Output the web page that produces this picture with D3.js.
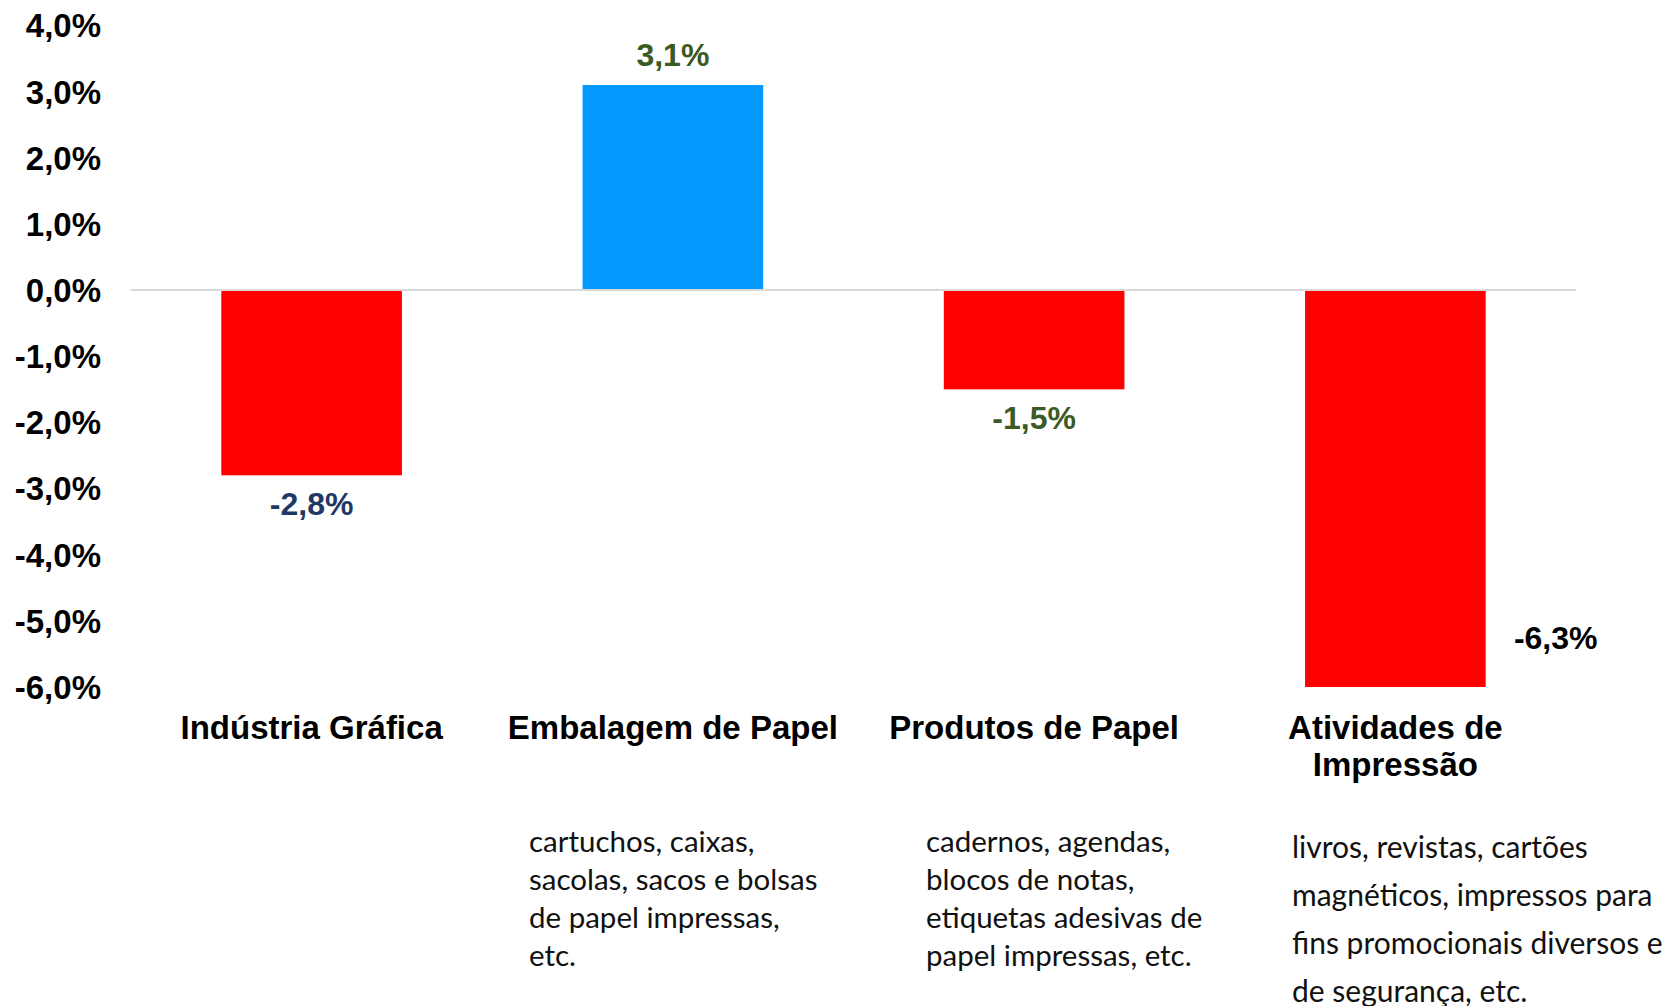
<!DOCTYPE html>
<html>
<head>
<meta charset="utf-8">
<script src="https://cdn.jsdelivr.net/npm/d3@7"></script>
<style>
    body { margin: 0; background: #fff; }
    svg { display: block; }
</style>
</head>
<body>
<div id="chart"></div>
<script>
// data
var categories = ["Indústria Gráfica", "Embalagem de Papel", "Produtos de Papel", "Atividades de|Impressão"];
var values = [-2.8, 3.1, -1.5, -6.3];
var labelColors = ["#1F3864", "#3B5A24", "#3B5A24", "#000000"];
var barColors = ["#FF0000", "#0399FF", "#FF0000", "#FF0000"];
var yTicks = [4, 3, 2, 1, 0, -1, -2, -3, -4, -5, -6];
var descriptions = [
    [],
    ["cartuchos, caixas,", "sacolas, sacos e bolsas", "de papel impressas,", "etc."],
    ["cadernos, agendas,", "blocos de notas,", "etiquetas adesivas de", "papel impressas, etc."],
    ["livros, revistas, cartões", "magnéticos, impressos para", "fins promocionais diversos e", "de segurança, etc."]
];

var width = 1663,
    height = 1006,
    boldFont = "'Liberation Sans', Arial, sans-serif",
    descFont = "Lato, 'Open Sans', sans-serif";

var fmt = function (v) {
    return v.toFixed(1).replace(".", ",") + "%";
};

var svg = d3.select("#chart")
    .append("svg")
    .attr("width", width)
    .attr("height", height);

var x = d3.scaleBand()
    .domain(d3.range(categories.length))
    .range([131, 1576])
    .paddingInner(0.5)
    .paddingOuter(0.25);

var y = d3.scaleLinear()
    .domain([-6, 4])
    .range([687, 25.5])
    .clamp(true);

// y tick labels (no axis line)
svg.append("g")
    .selectAll("text")
    .data(yTicks)
    .enter()
    .append("text")
    .attr("x", 101)
    .attr("y", function (d) { return y(d); })
    .attr("dy", "0.36em")
    .attr("text-anchor", "end")
    .attr("font-family", boldFont)
    .attr("font-weight", "bold")
    .attr("font-size", 33)
    .text(fmt);

// bars
svg.append("g")
    .selectAll("rect")
    .data(values)
    .enter()
    .append("rect")
    .attr("x", function (d, i) { return x(i); })
    .attr("width", x.bandwidth())
    .attr("y", function (d) { return Math.min(y(d), y(0)); })
    .attr("height", function (d) { return Math.abs(y(d) - y(0)); })
    .attr("fill", function (d, i) { return barColors[i]; });

// zero line
svg.append("line")
    .attr("x1", 131)
    .attr("x2", 1576)
    .attr("y1", y(0))
    .attr("y2", y(0))
    .attr("stroke", "#D9D9D9")
    .attr("stroke-width", 2);

// value labels
svg.append("g")
    .selectAll("text")
    .data(values)
    .enter()
    .append("text")
    .attr("x", function (d, i) {
        // clipped bar -> label goes to the right
        if (d < y.domain()[0]) return x(i) + x.bandwidth() + 70;
        return x(i) + x.bandwidth() / 2;
    })
    .attr("y", function (d) {
        if (d < y.domain()[0]) return y(d) - 50;
        return d >= 0 ? y(d) - 31 : y(d) + 28;
    })
    .attr("dy", "0.36em")
    .attr("text-anchor", "middle")
    .attr("fill", function (d, i) { return labelColors[i]; })
    .attr("font-family", boldFont)
    .attr("font-weight", "bold")
    .attr("font-size", 32)
    .text(fmt);

// category labels
var cat = svg.append("g")
    .selectAll("text")
    .data(categories)
    .enter()
    .append("text")
    .attr("text-anchor", "middle")
    .attr("x", function (d, i) { return x(i) + x.bandwidth() / 2; })
    .attr("y", 727)
    .attr("font-family", boldFont)
    .attr("font-weight", "bold")
    .attr("font-size", 33);

cat.selectAll("tspan")
    .data(function (d) { return d.split("|"); })
    .enter()
    .append("tspan")
    .attr("x", function () { return d3.select(this.parentNode).attr("x"); })
    .attr("dy", function (d, j) { return j === 0 ? "0.36em" : "37"; })
    .text(function (d) { return d; });

// descriptions under categories
var descX = [0, 529, 926, 1292],
    descY = [0, 841, 841, 847],
    descStep = [0, 38, 38, 48];

descriptions.forEach(function (lines, i) {
    svg.append("g")
        .selectAll("text")
        .data(lines)
        .enter()
        .append("text")
        .attr("x", descX[i])
        .attr("y", function (d, j) { return descY[i] + j * descStep[i]; })
        .attr("dy", "0.36em")
        .attr("fill", "#111")
        .attr("font-family", descFont)
        .attr("font-size", i === 3 ? 30 : 29.5)
        .text(function (d) { return d; });
});
</script>
</body>
</html>
